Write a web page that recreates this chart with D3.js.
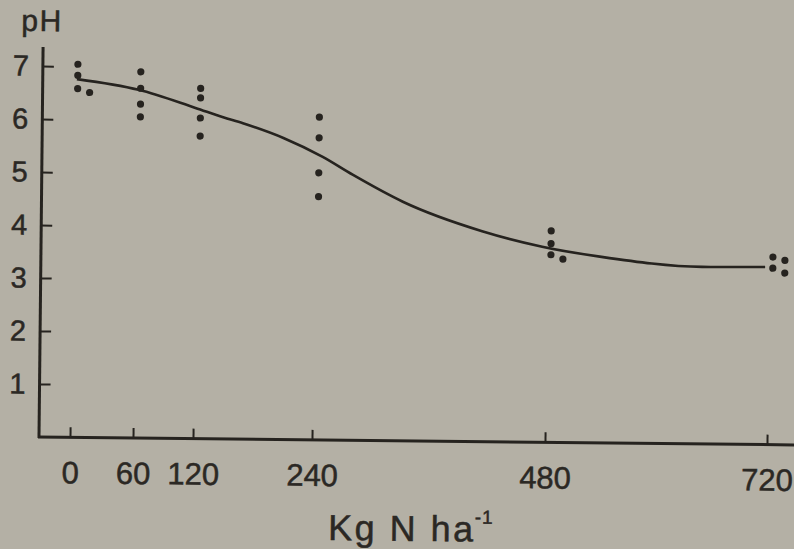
<!DOCTYPE html>
<html>
<head>
<meta charset="utf-8">
<script src="https://cdn.jsdelivr.net/npm/d3@7"></script>
<style>
  html, body { margin: 0; padding: 0; background: #b4b0a5; }
  svg { display: block; }
  text { font-family: "Liberation Sans", Arial, sans-serif; fill: #2b2824; stroke: #2b2824; stroke-width: 0.5px; }
</style>
</head>
<body>
<div id="chart"></div>
<script>
// ---- data ----
const doses = [0, 60, 120, 240, 480, 720];           // kg N ha-1 (x categories)
const yTicks = [1, 2, 3, 4, 5, 6, 7];                 // pH tick labels
// individual replicate pH readings at each dose
const ph0   = [7.04, 6.83, 6.58, 6.51];
const ph60  = [6.91, 6.60, 6.30, 6.06];
const ph120 = [6.61, 6.43, 6.05, 5.71];
const ph240 = [6.09, 5.70, 5.04, 4.59];
const ph480 = [3.99, 3.75, 3.54, 3.46];
const ph720 = [3.54, 3.48, 3.33, 3.24];
// fitted response curve
const fitDose = [3, 62, 119, 147, 167, 208, 248, 279, 331, 413, 475, 539, 648, 716];
const fitPH   = [6.76, 6.57, 6.24, 6.07, 5.96, 5.69, 5.34, 5.01, 4.51, 3.97, 3.69, 3.51, 3.34, 3.35];
const xTitle = "Kg N ha";
const xTitleSup = "-1";
const yTitle = "pH";

// ---- drawing ----
const W = 794, H = 549;
const ink = "#26231f";
const svg = d3.select("#chart").append("svg").attr("width", W).attr("height", H);
svg.append("rect").attr("width", W).attr("height", H).attr("fill", "#b4b0a5");

const axX = 39, axY = 437;
const g = svg.append("g").attr("transform", `rotate(0.6, ${axX}, ${axY})`);

const x = d3.scaleLinear().domain(doses).range([70, 133, 193, 312, 545, 767]);
const y = d3.scaleLinear().domain([0, 7]).range([axY, 66]);

// axis lines
g.append("line").attr("x1", axX).attr("x2", axX).attr("y1", axY + 1).attr("y2", 47)
  .attr("stroke", ink).attr("stroke-width", 3);
g.append("line").attr("x1", axX - 1).attr("x2", 810).attr("y1", axY).attr("y2", axY)
  .attr("stroke", ink).attr("stroke-width", 3);

// x axis ticks + labels
const xAxis = d3.axisBottom(x).tickValues(doses).tickSizeInner(-10).tickSizeOuter(0)
  .tickPadding(24).tickFormat(d3.format("d"));
const gx = g.append("g").attr("transform", `translate(0,${axY})`).call(xAxis);
gx.select(".domain").remove();
gx.selectAll(".tick line").attr("stroke", ink).attr("stroke-width", 2);
gx.selectAll(".tick text").attr("font-size", 31).attr("fill", "#2b2824")
  .style("font-family", "Liberation Sans, Arial, sans-serif");

// y axis ticks + labels
const yAxis = d3.axisLeft(y).tickValues(yTicks).tickSizeInner(-11).tickSizeOuter(0)
  .tickPadding(14).tickFormat(d3.format("d"));
const gy = g.append("g").attr("transform", `translate(${axX},0)`).call(yAxis);
gy.select(".domain").remove();
gy.selectAll(".tick line").attr("stroke", ink).attr("stroke-width", 2);
gy.selectAll(".tick text").attr("font-size", 29).attr("fill", "#2b2824")
  .style("font-family", "Liberation Sans, Arial, sans-serif");

// titles
g.append("text").attr("x", 17).attr("y", 31).attr("font-size", 30)
  .attr("letter-spacing", 1.5).text(yTitle);
const t = g.append("text").attr("x", 329).attr("y", 537).attr("font-size", 36)
  .attr("letter-spacing", 2.5);
t.append("tspan").text(xTitle);
t.append("tspan").attr("font-size", 19).attr("dy", -18).attr("dx", -1).attr("letter-spacing", 1).text(xTitleSup);

// fitted curve
const fit = fitDose.map((d, i) => [d, fitPH[i]]);
g.append("path").datum(fit)
  .attr("d", d3.line().x(d => x(d[0])).y(d => y(d[1])).curve(d3.curveMonotoneX))
  .attr("fill", "none").attr("stroke", ink).attr("stroke-width", 2.6);

// replicate points (close neighbours are set side by side in a second column)
const groups = [ph0, ph60, ph120, ph240, ph480, ph720];
const pts = [];
groups.forEach((vals, gi) => {
  const cols = [[], []];
  vals.slice().sort((a, b) => b - a).forEach(v => {
    const py = y(v);
    const c = cols[0].some(p => Math.abs(p - py) < 8) ? 1 : 0;
    cols[c].push(py);
    pts.push({ dose: doses[gi], v: v, col: c });
  });
});
g.selectAll("circle.pt").data(pts).join("circle").attr("class", "pt")
  .attr("cx", d => x(d.dose) + 4 + d.col * 12).attr("cy", d => y(d.v))
  .attr("r", 3.6).attr("fill", ink);
</script>
</body>
</html>
